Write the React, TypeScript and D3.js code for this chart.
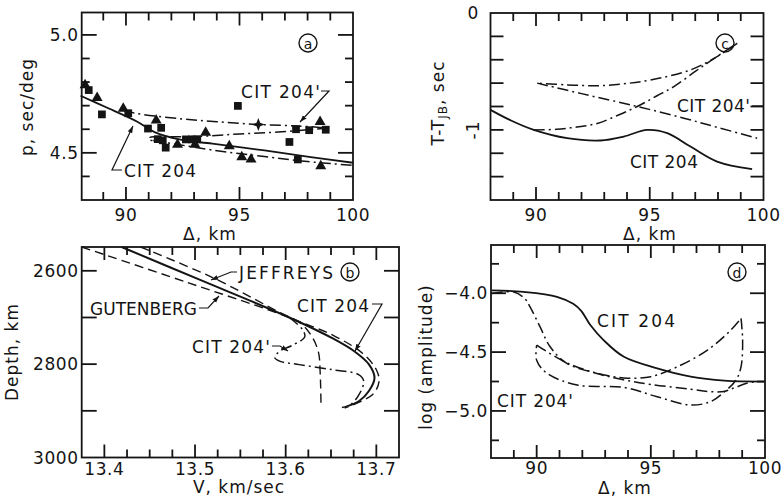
import React from "react";
import * as d3 from "d3";

type Pt = [number, number];

const FONT = "'DejaVu Sans', Verdana, sans-serif";
const INK = "#141414";

// ---------------- Panel (a): p vs Δ ----------------
const aXTicks = [89, 90, 91, 92, 93, 94, 95, 96, 97, 98, 99];
const aXMajor = [90, 95];
const aXLabels = [90, 95, 100];
const aYTicks = [4.4, 4.5, 4.6, 4.7, 4.8, 4.9, 5.0];
const aYMajor = [4.5, 5.0];
const aYLabels = [4.5, 5.0];

const aSquares: Pt[] = [
  [88.36, 4.766], [88.94, 4.663], [90.1, 4.668], [90.97, 4.603], [91.55, 4.606],
  [91.4, 4.558], [91.62, 4.553], [91.75, 4.522], [92.64, 4.557], [92.9, 4.557],
  [93.14, 4.557], [94.93, 4.699], [97.2, 4.546], [97.49, 4.6], [98.07, 4.596],
  [98.8, 4.598], [97.57, 4.472],
];
const aTriangles: Pt[] = [
  [88.2, 4.787], [88.73, 4.733], [89.88, 4.688], [91.33, 4.638], [93.51, 4.586],
  [92.27, 4.535], [93.04, 4.535], [94.55, 4.529], [95.1, 4.482], [95.51, 4.472],
  [98.55, 4.631], [98.58, 4.444],
];
const aStars: Pt[] = [[95.83, 4.62]];

const aCit204: Pt[] = [
  [88.0, 4.742], [89.2, 4.69], [90.5, 4.632], [91.26, 4.588], [92.35, 4.557],
  [93.8, 4.539], [96.1, 4.51], [98.14, 4.482], [100.0, 4.458],
];
const aCit204pUpper: Pt[] = [
  [89.9, 4.68], [90.4, 4.668], [92.35, 4.645], [94.0, 4.632], [95.83, 4.62],
  [97.57, 4.614], [98.9, 4.605],
];
const aCit204pMiddle: Pt[] = [
  [98.9, 4.605], [96.7, 4.588], [95.0, 4.58], [93.51, 4.571], [92.3, 4.568],
  [91.3, 4.568], [91.05, 4.565], [91.0, 4.556], [91.2, 4.552],
];
const aCit204pLower: Pt[] = [
  [91.2, 4.552], [92.3, 4.535], [93.8, 4.512], [96.1, 4.484], [98.0, 4.463], [100.0, 4.447],
];

// ---------------- Panel (c): T - T_JB vs Δ ----------------
const cXTicks = [89, 90, 91, 92, 93, 94, 95, 96, 97, 98, 99];
const cXMajor = [90, 95];
const cXLabels = [90, 95, 100];
const cYTicks = [-0.2, -0.4, -0.6, -0.8, -1.0, -1.2, -1.4];

const cCit204: Pt[] = [
  [88.0, -0.829], [88.9, -0.92], [89.9, -1.0], [91.37, -1.071], [92.84, -1.091],
  [93.86, -1.057], [94.89, -1.0], [95.77, -1.028], [96.79, -1.143], [97.96, -1.271],
  [99.5, -1.336],
];
const cCit204pA: Pt[] = [
  [89.9, -1.0], [90.9, -0.995], [91.8, -0.975], [92.69, -0.945], [93.6, -0.875],
  [94.45, -0.8], [95.3, -0.71], [96.06, -0.63], [97.0, -0.5], [97.67, -0.41], [98.84, -0.259],
];
const cCit204pB: Pt[] = [
  [98.84, -0.259], [97.9, -0.38], [96.79, -0.487], [95.03, -0.573], [93.8, -0.607],
  [92.69, -0.622], [91.4, -0.615], [90.05, -0.6],
];
const cCit204pC: Pt[] = [
  [90.05, -0.6], [92.0, -0.69], [94.45, -0.8], [96.5, -0.9], [98.0, -0.98], [99.72, -1.071],
];

// ---------------- Panel (b): Depth vs V ----------------
const bXTicks = [13.4, 13.425, 13.45, 13.475, 13.5, 13.525, 13.55, 13.575, 13.6, 13.625, 13.65, 13.675, 13.7];
const bXMajor = [13.4, 13.5, 13.6, 13.7];
const bXLabels = [13.4, 13.5, 13.6, 13.7];
const bYTicks = [2600, 2700, 2800, 2900];
const bYLabels = [2600, 2800, 3000];

const bCit204: Pt[] = [
  [13.419, 2549], [13.505, 2619], [13.604, 2700], [13.652, 2745], [13.676, 2773],
  [13.692, 2801], [13.698, 2829], [13.692, 2857], [13.681, 2879], [13.668, 2890],
];
const bJeffreys: Pt[] = [
  [13.44, 2549], [13.52, 2615], [13.605, 2700], [13.652, 2738], [13.685, 2777],
  [13.7, 2812], [13.703, 2837], [13.696, 2865], [13.665, 2894],
];
const bGutenberg: Pt[] = [
  [13.375, 2549], [13.49, 2624], [13.6, 2697], [13.615, 2710], [13.628, 2738],
  [13.636, 2773], [13.638, 2816], [13.639, 2893],
];
const bCit204p: Pt[] = [
  [13.604, 2700], [13.619, 2727], [13.621, 2742], [13.608, 2759], [13.593, 2773],
  [13.588, 2786], [13.594, 2794], [13.615, 2801], [13.652, 2812], [13.68, 2822],
  [13.686, 2836], [13.681, 2865], [13.672, 2886], [13.662, 2893],
];

// ---------------- Panel (d): log amplitude vs Δ ----------------
const dXTicks = [89, 90, 91, 92, 93, 94, 95, 96, 97, 98, 99];
const dXMajor = [90, 95];
const dXLabels = [90, 95, 100];
const dYTicks = [-3.75, -4.0, -4.25, -4.5, -4.75, -5.0, -5.25];
const dYMajor = [-4.0, -4.5, -5.0];
const dYLabels = [-4.0, -4.5, -5.0];

const dCit204: Pt[] = [
  [88.03, -3.975], [89.42, -3.989], [90.89, -4.03], [91.6, -4.09], [91.95, -4.15],
  [92.35, -4.27], [92.94, -4.4], [93.82, -4.54], [95.28, -4.638], [96.75, -4.709],
  [98.21, -4.743], [100.0, -4.751],
];
const dCit204pA: Pt[] = [
  [88.03, -4.003], [89.0, -3.99], [89.5, -4.05], [89.71, -4.116], [90.15, -4.286],
  [90.59, -4.455], [91.32, -4.596], [92.65, -4.68], [93.82, -4.72], [95.0, -4.709],
  [96.16, -4.625], [97.48, -4.483], [98.5, -4.314], [98.95, -4.214],
];
const dCit204pB: Pt[] = [
  [98.95, -4.214], [99.02, -4.4], [98.95, -4.625], [98.73, -4.737], [98.21, -4.84],
  [97.63, -4.92], [96.75, -4.95], [95.28, -4.88], [93.82, -4.8], [91.77, -4.78],
  [90.45, -4.68], [90.0, -4.57], [90.0, -4.44],
];
const dCit204pC: Pt[] = [
  [90.0, -4.44], [91.2, -4.58], [92.6, -4.68], [93.8, -4.735], [95.0, -4.775],
  [96.75, -4.815], [97.5, -4.835], [98.2, -4.835], [98.7, -4.8], [99.2, -4.765], [99.7, -4.75],
];

// ---------------- layout ----------------
type PanelCfg = {
  left: number; right: number; top: number; bottom: number;
  xDomain: [number, number]; yDomain: [number, number];
  xTicks: number[]; xMajor: number[]; xLabels: number[]; xFmt: (v: number) => string;
  yTicks: number[]; yMajor: number[]; yLabels: number[]; yFmt: (v: number) => string;
  yMinorLen: number; xLabelDy: number;
};

const fmt0 = (v: number) => String(v);
const fmt1 = d3.format(".1f");

const PA: PanelCfg = {
  left: 81.7, right: 353, top: 12.5, bottom: 200,
  xDomain: [88.05, 100], yDomain: [4.3, 5.095],
  xTicks: aXTicks, xMajor: aXMajor, xLabels: aXLabels, xFmt: fmt0,
  yTicks: aYTicks, yMajor: aYMajor, yLabels: aYLabels, yFmt: fmt1, yMinorLen: 8, xLabelDy: 21,
};
const PC: PanelCfg = {
  left: 490.5, right: 763.5, top: 13, bottom: 200,
  xDomain: [88, 100], yDomain: [-1.6, 0],
  xTicks: cXTicks, xMajor: cXMajor, xLabels: cXLabels, xFmt: fmt0,
  yTicks: cYTicks, yMajor: [], yLabels: [], yFmt: fmt0, yMinorLen: 13, xLabelDy: 21,
};
const PB: PanelCfg = {
  left: 81.7, right: 399, top: 247, bottom: 457.5,
  xDomain: [13.375, 13.725], yDomain: [3000, 2549],
  xTicks: bXTicks, xMajor: bXMajor, xLabels: bXLabels, xFmt: fmt1,
  yTicks: bYTicks, yMajor: bYTicks, yLabels: bYLabels, yFmt: fmt0, yMinorLen: 12, xLabelDy: 17,
};
const PD: PanelCfg = {
  left: 491, right: 765, top: 245, bottom: 458,
  xDomain: [88, 100], yDomain: [-5.4, -3.59],
  xTicks: dXTicks, xMajor: dXMajor, xLabels: dXLabels, xFmt: fmt0,
  yTicks: dYTicks, yMajor: dYMajor, yLabels: dYLabels, yFmt: fmt1, yMinorLen: 8, xLabelDy: 16,
};

const DASHDOT = "11,4,2,4";
const DASHED = "9,5";

function scales(p: PanelCfg) {
  const xs = d3.scaleLinear().domain(p.xDomain).range([p.left, p.right]);
  const ys = d3.scaleLinear().domain(p.yDomain).range([p.bottom, p.top]);
  const lineGen = d3
    .line<Pt>()
    .x((d) => xs(d[0]))
    .y((d) => ys(d[1]))
    .curve(d3.curveCatmullRom.alpha(0.5));
  return { xs, ys, lineGen };
}

// Ticks expressed in data space, drawn with the same line generator as curves.
function tickSeries(p: PanelCfg): Pt[][] {
  const { xs, ys } = scales(p);
  const [y0, y1] = p.yDomain;
  const [x0, x1] = p.xDomain;
  const out: Pt[][] = [];
  for (let i = 0; i < p.xTicks.length; i++) {
    const t = p.xTicks[i];
    const len = p.xMajor.indexOf(t) >= 0 ? 13 : 8;
    out.push([[t, y0], [t, ys.invert(p.bottom - len)]]);
    out.push([[t, y1], [t, ys.invert(p.top + len)]]);
  }
  for (let i = 0; i < p.yTicks.length; i++) {
    const t = p.yTicks[i];
    const len = p.yMajor.indexOf(t) >= 0 ? 15 : p.yMinorLen;
    out.push([[x0, t], [xs.invert(p.left + len), t]]);
    out.push([[x1, t], [xs.invert(p.right - len), t]]);
  }
  return out;
}

function Frame({ p }: { p: PanelCfg }) {
  const { xs, ys } = scales(p);
  const straight = d3
    .line<Pt>()
    .x((d) => xs(d[0]))
    .y((d) => ys(d[1]));
  const ticks = tickSeries(p);
  return (
    <g>
      <rect
        x={p.left}
        y={p.top}
        width={p.right - p.left}
        height={p.bottom - p.top}
        fill="none"
        stroke={INK}
        strokeWidth={1.8}
      />
      <g fill="none" stroke={INK} strokeWidth={1.8}>
        {ticks.map((s, i) => (
          <path key={"tk" + i} d={straight(s) || ""} />
        ))}
      </g>
      {p.xLabels.map((t, i) => (
        <text
          key={"xl" + i}
          x={xs(t)}
          y={p.bottom + p.xLabelDy}
          textAnchor="middle"
          fontFamily={FONT}
          fontSize={17}
          fill={INK}
          letterSpacing={0.6}
        >
          {p.xFmt(t)}
        </text>
      ))}
      {p.yLabels.map((t, i) => (
        <text
          key={"yl" + i}
          x={p.left - 3}
          y={ys(t)}
          textAnchor="end"
          dominantBaseline="central"
          fontFamily={FONT}
          fontSize={17}
          fill={INK}
          letterSpacing={0.6}
        >
          {p.yFmt(t)}
        </text>
      ))}
    </g>
  );
}

function Curves({ p, series }: { p: PanelCfg; series: { data: Pt[]; dash?: string; w?: number }[] }) {
  const { lineGen } = scales(p);
  return (
    <g fill="none" stroke={INK} strokeLinejoin="round">
      {series.map((s, i) => (
        <path key={i} d={lineGen(s.data) || ""} strokeDasharray={s.dash} strokeWidth={s.w ?? 1.8} />
      ))}
    </g>
  );
}

function Symbols({ p }: { p: PanelCfg }) {
  const { xs, ys } = scales(p);
  const tri = d3.symbol().type(d3.symbolTriangle).size(52)() || "";
  const sq = d3.symbol().type(d3.symbolSquare).size(60)() || "";
  const star = "M0,-6.5 L1.8,-1.8 L6.5,0 L1.8,1.8 L0,6.5 L-1.8,1.8 L-6.5,0 L-1.8,-1.8Z";
  return (
    <g fill={INK} stroke="none">
      {aSquares.map((d, i) => (
        <path key={"s" + i} d={sq} transform={`translate(${xs(d[0])},${ys(d[1])})`} />
      ))}
      {aTriangles.map((d, i) => (
        <path key={"t" + i} d={tri} transform={`translate(${xs(d[0])},${ys(d[1])})`} />
      ))}
      {aStars.map((d, i) => (
        <path key={"x" + i} d={star} transform={`translate(${xs(d[0])},${ys(d[1])})`} />
      ))}
    </g>
  );
}

function Circled({ x, y, ch }: { x: number; y: number; ch: string }) {
  return (
    <g>
      <circle cx={x} cy={y} r={9} fill="none" stroke={INK} strokeWidth={1.4} />
      <text x={x} y={y + 0.5} textAnchor="middle" dominantBaseline="central" fontFamily={FONT} fontSize={14} fill={INK}>
        {ch}
      </text>
    </g>
  );
}

function Label({ x, y, t, w }: { x: number; y: number; t: string; w?: number }) {
  return (
    <text x={x} y={y} fontFamily={FONT} fontSize={17} fill={INK} textLength={w} lengthAdjust="spacing">
      {t}
    </text>
  );
}

function Leader({ pts }: { pts: [number, number][] }) {
  return (
    <polyline
      points={pts.map((q) => q.join(",")).join(" ")}
      fill="none"
      stroke={INK}
      strokeWidth={1.2}
      markerEnd="url(#arrow)"
    />
  );
}

function VTitle({ x, y, children }: { x: number; y: number; children: React.ReactNode }) {
  return (
    <text
      transform={`translate(${x},${y}) rotate(-90)`}
      textAnchor="middle"
      dominantBaseline="central"
      fontFamily={FONT}
      fontSize={17}
      fill={INK}
      letterSpacing={1}
    >
      {children}
    </text>
  );
}

function XTitle({ x, y, children }: { x: number; y: number; children: React.ReactNode }) {
  return (
    <text x={x} y={y} textAnchor="middle" fontFamily={FONT} fontSize={17} fill={INK} letterSpacing={1}>
      {children}
    </text>
  );
}

export default function App() {
  return (
    <svg
      width={783}
      height={502}
      viewBox="0 0 783 502"
      style={{ position: "absolute", left: 0, top: 0, background: "#fff" }}
    >
      <defs>
        <marker id="arrow" viewBox="0 0 10 10" refX={10} refY={5} markerWidth={7} markerHeight={7} orient="auto" markerUnits="userSpaceOnUse">
          <path d="M0,1.5 L10,5 L0,8.5 z" fill={INK} />
        </marker>
      </defs>
      <rect x={0} y={0} width={783} height={502} fill="#fff" />

      {/* Panel a */}
      <Curves
        p={PA}
        series={[
          { data: aCit204 },
          { data: aCit204pUpper, dash: DASHDOT, w: 1.5 },
          { data: aCit204pMiddle, dash: DASHDOT, w: 1.5 },
          { data: aCit204pLower, dash: DASHDOT, w: 1.5 },
        ]}
      />
      <Symbols p={PA} />
      <Frame p={PA} />
      <Circled x={308} y={43} ch="a" />
      <Label x={241} y={98} t="CIT 204'" w={79} />
      <Leader pts={[[321, 91], [329, 91], [300, 122]]} />
      <Label x={124} y={177} t="CIT 204" w={72} />
      <Leader pts={[[122, 170], [112, 170], [133, 126]]} />
      <VTitle x={27} y={107}>p,  sec/deg</VTitle>
      <XTitle x={210} y={240}>Δ,  km</XTitle>

      {/* Panel c */}
      <Curves
        p={PC}
        series={[
          { data: cCit204 },
          { data: cCit204pA, dash: DASHDOT, w: 1.5 },
          { data: cCit204pB, dash: DASHDOT, w: 1.5 },
          { data: cCit204pC, dash: DASHDOT, w: 1.5 },
        ]}
      />
      <Frame p={PC} />
      <text x={473} y={13} textAnchor="middle" dominantBaseline="central" fontFamily={FONT} fontSize={17} fill={INK}>0</text>
      <VTitle x={473} y={130}>-1</VTitle>
      <Circled x={725} y={43} ch="c" />
      <Label x={677} y={112} t="CIT 204'" w={73} />
      <path d="M752,106H763" stroke={INK} strokeWidth={1.3} />
      <Label x={630} y={168} t="CIT 204" w={68} />
      <VTitle x={438} y={103}>
        <tspan>T-T</tspan>
        <tspan dy={5} fontSize={12}>JB</tspan>
        <tspan dy={-5}>,  sec</tspan>
      </VTitle>
      <XTitle x={650} y={240}>Δ,  km</XTitle>

      {/* Panel b */}
      <Curves
        p={PB}
        series={[
          { data: bGutenberg, dash: DASHED, w: 1.4 },
          { data: bJeffreys, dash: DASHED, w: 1.4 },
          { data: bCit204, w: 2.0 },
          { data: bCit204p, dash: DASHDOT, w: 1.5 },
        ]}
      />
      <Frame p={PB} />
      <Circled x={350} y={272} ch="b" />
      <Label x={239} y={279} t="JEFFREYS" w={94} />
      <Leader pts={[[237, 272], [231, 272], [211, 280]]} />
      <Label x={90} y={315} t="GUTENBERG" w={107} />
      <Leader pts={[[199, 308], [208, 308], [219, 296]]} />
      <Label x={297} y={312} t="CIT 204" w={72} />
      <Leader pts={[[372, 304], [382, 304], [355, 351]]} />
      <Label x={192} y={353} t="CIT 204'" w={78} />
      <Leader pts={[[272, 346], [280, 346], [288, 351]]} />
      <VTitle x={12} y={352}>Depth,  km</VTitle>
      <XTitle x={239} y={493}>V,  km/sec</XTitle>

      {/* Panel d */}
      <Curves
        p={PD}
        series={[
          { data: dCit204 },
          { data: dCit204pA, dash: DASHDOT, w: 1.5 },
          { data: dCit204pB, dash: DASHDOT, w: 1.5 },
          { data: dCit204pC, dash: DASHDOT, w: 1.5 },
        ]}
      />
      <Frame p={PD} />
      <Circled x={737} y={272} ch="d" />
      <Label x={597} y={327} t="CIT 204" w={78} />
      <Label x={497} y={407} t="CIT 204'" w={76} />
      <VTitle x={426} y={357}>log  (amplitude)</VTitle>
      <XTitle x={625} y={494}>Δ,  km</XTitle>
    </svg>
  );
}
